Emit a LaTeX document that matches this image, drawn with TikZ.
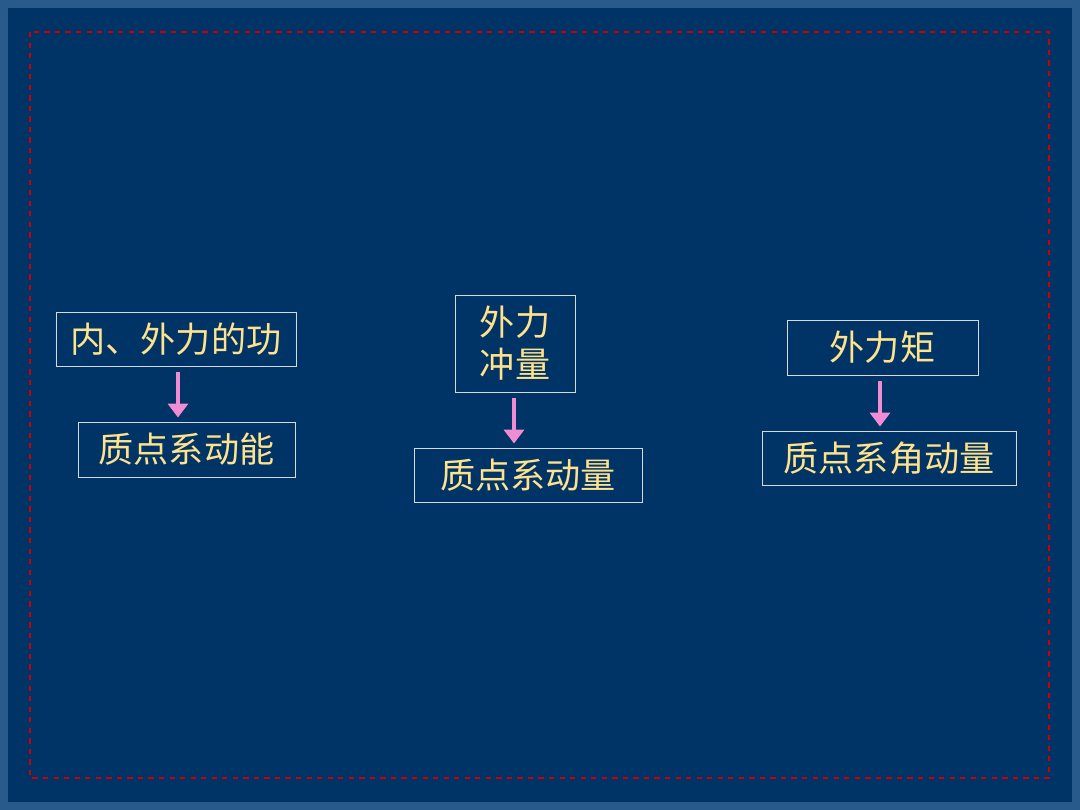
\documentclass[tikz,border=0pt]{standalone}
\usepackage{fontspec}
\setmainfont{Noto Sans CJK SC}
\usetikzlibrary{arrows.meta}
\definecolor{slidebg}{RGB}{0,51,102}
\definecolor{slideedge}{RGB}{40,90,140}
\definecolor{textyellow}{RGB}{255,226,140}
\definecolor{arrowpink}{RGB}{240,140,210}

\tikzset{
  box/.style={draw=white!70!gray, line width=0.5pt, text=textyellow,
    font=\fontsize{20}{24}\selectfont, inner sep=0pt, align=center},
  link/.style={draw=arrowpink, line width=2.8pt, shorten <=0.12cm, shorten >=0.08cm,
    -{Triangle[length=0.28cm,width=0.4cm]}}
}

\begin{document}
\begin{tikzpicture}[x=0.02cm,y=-0.02cm]
    % slide background
    \fill[slideedge] (0,0) rectangle (1080,810);
    \fill[slidebg] (8,8) rectangle (1072,802);
    \draw[red!80!black, dashed, line width=0.6pt] (30,32) rectangle (1049,778);

    % first column
    \node[box, minimum width=240*0.02cm, minimum height=54*0.02cm] (work) at (176,339) {内、外力的功};
    \node[box, minimum width=217*0.02cm, minimum height=55*0.02cm] (kinetic) at (186.5,449.5) {质点系动能};

    % second column
    \node[box, minimum width=120*0.02cm, minimum height=97*0.02cm] (impulse) at (515,343.5) {外力\\冲量};
    \node[box, minimum width=228*0.02cm, minimum height=54*0.02cm] (momentum) at (528,475) {质点系动量};

    % third column
    \node[box, minimum width=191*0.02cm, minimum height=55*0.02cm] (torque) at (882.5,347.5) {外力矩};
    \node[box, minimum width=254*0.02cm, minimum height=54*0.02cm] (angular) at (889,458) {质点系角动量};

    \draw[link] (work.south -| 178,0) -- (kinetic.north -| 178,0);
    \draw[link] (impulse.south -| 514,0) -- (momentum.north -| 514,0);
    \draw[link] (torque.south -| 880,0) -- (angular.north -| 880,0);
\end{tikzpicture}
\end{document}
